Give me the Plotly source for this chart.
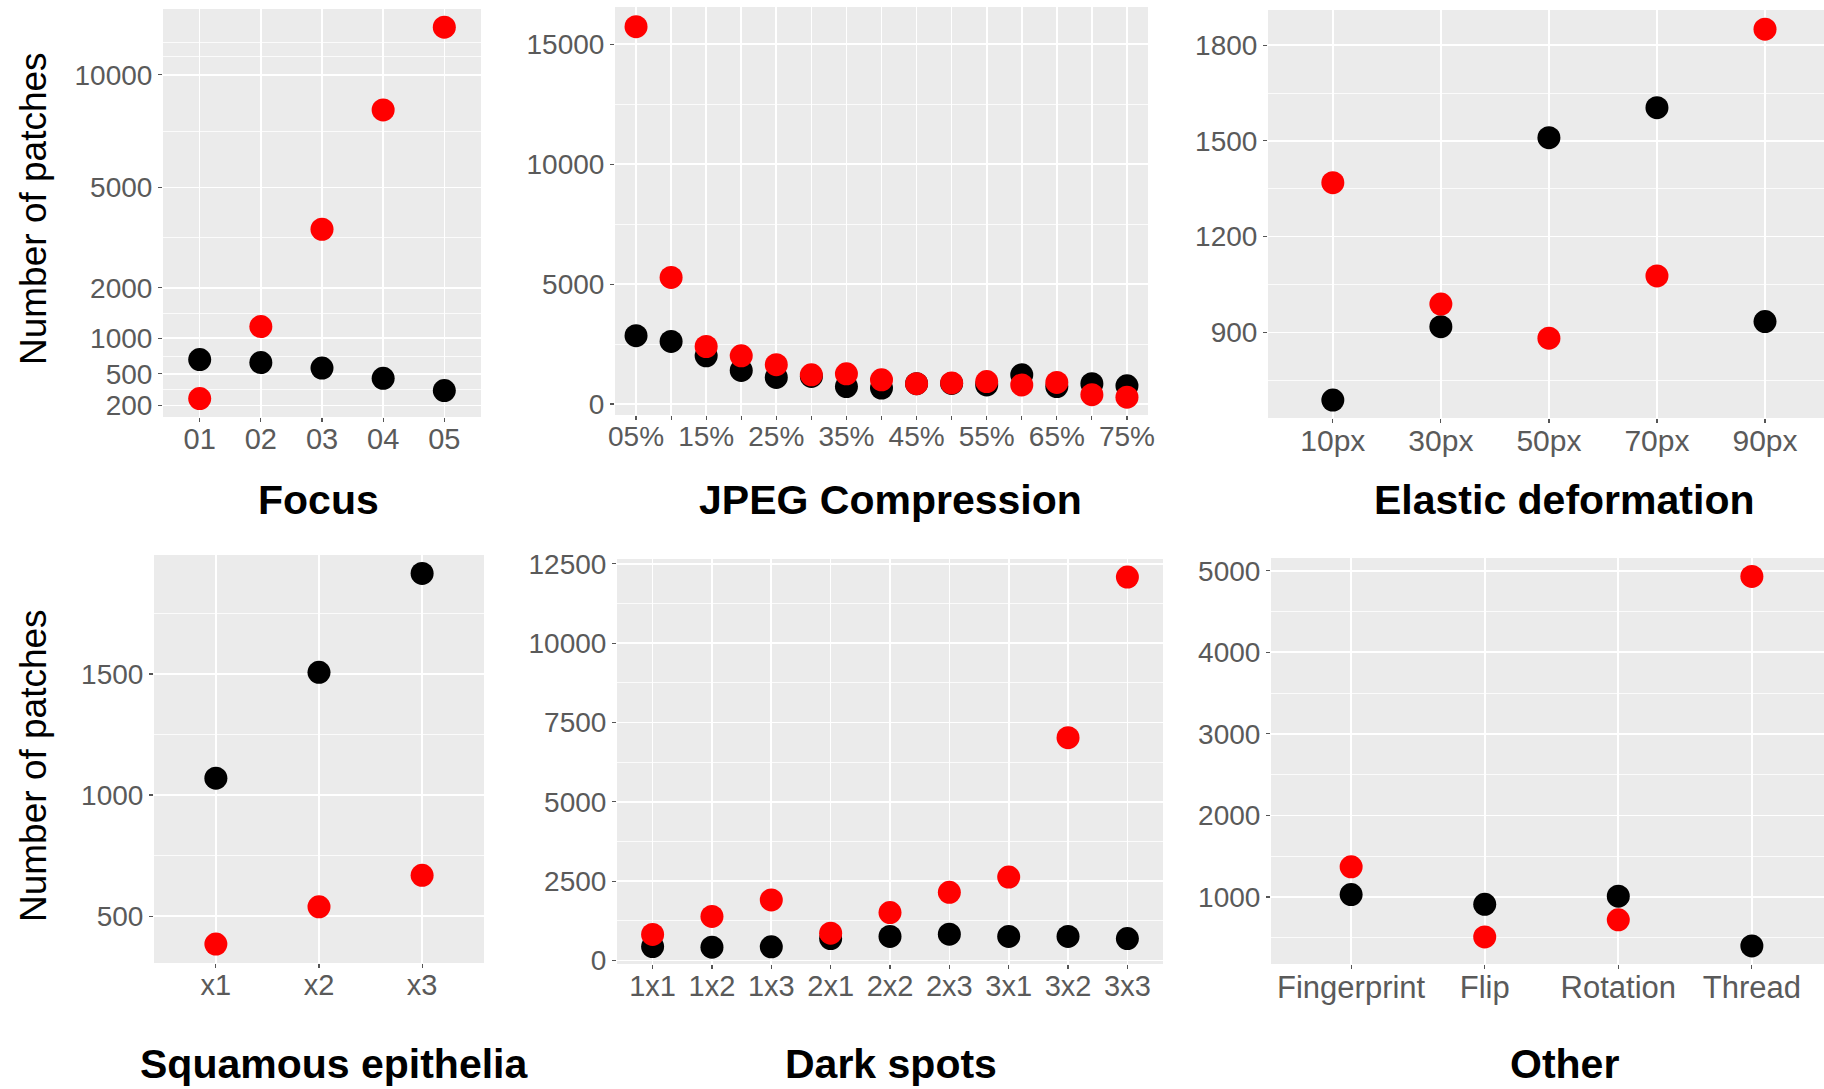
import numpy as np
import plotly.graph_objects as go

# ---------------- data ----------------
focus_cats = ["01", "02", "03", "04", "05"]
focus_black = [680, 640, 570, 450, 325]
focus_red = [255, 1200, 3590, 8260, 12630]
focus_yticks = [200, 500, 1000, 2000, 5000, 10000]

jpeg_cats = ["05%", "10%", "15%", "20%", "25%", "30%", "35%", "40%",
             "45%", "50%", "55%", "60%", "65%", "70%", "75%"]
jpeg_labels = ["05%", "", "15%", "", "25%", "", "35%", "", "45%", "",
               "55%", "", "65%", "", "75%"]
jpeg_black = [2850, 2610, 2010, 1400, 1110, 1150, 730, 670, 850, 860, 800, 1220, 730, 850, 760]
jpeg_red = [15730, 5280, 2400, 2010, 1640, 1220, 1260, 1010, 850, 880, 940, 800, 900, 390, 290]
jpeg_yticks = [0, 5000, 10000, 15000]

elastic_cats = ["10px", "30px", "50px", "70px", "90px"]
elastic_black = [688, 918, 1510, 1604, 934]
elastic_red = [1369, 989, 882, 1077, 1850]
elastic_yticks = [900, 1200, 1500, 1800]

squamous_cats = ["x1", "x2", "x3"]
squamous_black = [1070, 1507, 1915]
squamous_red = [385, 539, 669]
squamous_yticks = [500, 1000, 1500]

dark_cats = ["1x1", "1x2", "1x3", "2x1", "2x2", "2x3", "3x1", "3x2", "3x3"]
dark_black = [440, 420, 430, 690, 760, 830, 760, 760, 690]
dark_red = [820, 1390, 1910, 860, 1510, 2150, 2630, 7020, 12080]
dark_yticks = [0, 2500, 5000, 7500, 10000, 12500]

other_cats = ["Fingerprint", "Flip", "Rotation", "Thread"]
other_black = [1030, 910, 1010, 400]
other_red = [1370, 510, 720, 4930]
other_yticks = [1000, 2000, 3000, 4000, 5000]

titles = ["Focus", "JPEG Compression", "Elastic deformation",
          "Squamous epithelia", "Dark spots", "Other"]
y_title = "Number of patches"

# ---------------- style ----------------
W, H = 1824, 1089
FONT = "Liberation Sans, Arial, sans-serif"
TICK_COLOR = "#5a5a5a"
PANEL_BG = "#EBEBEB"
MS = 23

def fx(px):
    return px / W

def fy(px):
    return 1 - px / H

fig = go.Figure()

sq = np.sqrt
panels = [
    dict(cats=focus_cats, black=list(sq(focus_black)), red=list(sq(focus_red)),
         xd=(163, 481), yd=(9, 417), xr=[-0.6, 4.6], yr=[11.17, 117.1],
         tv=list(sq(focus_yticks)), tt=[str(v) for v in focus_yticks],
         minor=[18.25, 26.99, 38.17, 57.72, 85.36, 104.7, 108.3], xfs=29),
    dict(cats=jpeg_cats, black=jpeg_black, red=jpeg_red, xlabels=jpeg_labels,
         xd=(615, 1148), yd=(7, 415), xr=[-0.6, 14.6], yr=[-455, 16550],
         tv=jpeg_yticks, tt=[str(v) for v in jpeg_yticks],
         minor=[2500, 7500, 12500], xfs=28),
    dict(cats=elastic_cats, black=elastic_black, red=elastic_red,
         xd=(1268, 1824), yd=(10, 418), xr=[-0.6, 4.546], yr=[632, 1910],
         tv=elastic_yticks, tt=[str(v) for v in elastic_yticks],
         minor=[750, 1050, 1350, 1650], xfs=30),
    dict(cats=squamous_cats, black=squamous_black, red=squamous_red,
         xd=(154, 484), yd=(555, 963), xr=[-0.6, 2.6], yr=[307, 1991],
         tv=squamous_yticks, tt=[str(v) for v in squamous_yticks],
         minor=[750, 1250, 1750], xfs=29),
    dict(cats=dark_cats, black=dark_black, red=dark_red,
         xd=(617, 1163), yd=(559, 964), xr=[-0.6, 8.6], yr=[-110, 12650],
         tv=dark_yticks, tt=[str(v) for v in dark_yticks],
         minor=[1250, 3750, 6250, 8750, 11250], xfs=29),
    dict(cats=other_cats, black=other_black, red=other_red,
         xd=(1271, 1824), yd=(558, 964), xr=[-0.6, 3.54], yr=[178, 5156],
         tv=other_yticks, tt=[str(v) for v in other_yticks],
         minor=[500, 1500, 2500, 3500, 4500], xfs=31),
]

layout = {}
for i, p in enumerate(panels):
    n = "" if i == 0 else str(i + 1)
    xa, ya = "x" + n, "y" + n
    fig.add_trace(go.Scatter(x=p["cats"], y=p["black"], mode="markers",
                             marker=dict(color="black", size=MS, line=dict(width=0)),
                             xaxis=xa, yaxis=ya, showlegend=False, hoverinfo="skip"))
    fig.add_trace(go.Scatter(x=p["cats"], y=p["red"], mode="markers",
                             marker=dict(color="#FF0000", size=MS, line=dict(width=0)),
                             xaxis=xa, yaxis=ya, showlegend=False, hoverinfo="skip"))
    xlabels = p.get("xlabels", p["cats"])
    layout["xaxis" + n] = dict(
        domain=[fx(p["xd"][0]), fx(p["xd"][1])], anchor=ya, automargin=False,
        type="category", categoryorder="array", categoryarray=p["cats"],
        range=p["xr"], tickmode="array", tickvals=p["cats"], ticktext=xlabels,
        showgrid=True, gridcolor="white", gridwidth=1.6, zeroline=False,
        showline=False, ticks="outside", ticklen=4, tickwidth=1.2,
        tickcolor="#555555", tickfont=dict(family=FONT, size=p["xfs"], color=TICK_COLOR),
        fixedrange=True, tickangle=0, ticklabelstandoff=-8)
    layout["yaxis" + n] = dict(
        domain=[fy(p["yd"][1]), fy(p["yd"][0])], anchor=xa, automargin=False,
        range=p["yr"], tickmode="array", tickvals=p["tv"], ticktext=p["tt"],
        showgrid=True, gridcolor="white", gridwidth=1.6, zeroline=False,
        showline=False, ticks="outside", ticklen=4, tickwidth=1.2,
        tickcolor="#555555", tickfont=dict(family=FONT, size=28, color=TICK_COLOR),
        minor=dict(tickmode="array", tickvals=p["minor"], showgrid=True,
                   gridcolor="white", gridwidth=0.8, ticks=""),
        fixedrange=True)

shapes = []
for p in panels:
    shapes.append(dict(type="rect", xref="paper", yref="paper", layer="below",
                       x0=fx(p["xd"][0]), x1=fx(p["xd"][1]),
                       y0=fy(p["yd"][1]), y1=fy(p["yd"][0]),
                       fillcolor=PANEL_BG, line=dict(width=0)))

annotations = []
title_pos = [(318, 500), (890, 500), (1564, 500), (334, 1064), (891, 1064), (1564, 1064)]
for t, (cx, cy) in zip(titles, title_pos):
    annotations.append(dict(text="<b>%s</b>" % t, x=fx(cx), y=fy(cy), xref="paper", yref="paper",
                            showarrow=False, xanchor="center", yanchor="middle",
                            font=dict(family=FONT, size=41, color="black")))
for cy in (209, 766):
    annotations.append(dict(text=y_title, x=fx(33), y=fy(cy), xref="paper", yref="paper",
                            showarrow=False, xanchor="center", yanchor="middle", textangle=-90,
                            font=dict(family=FONT, size=37, color="black")))

fig.update_layout(width=W, height=H, margin=dict(l=0, r=0, t=0, b=0, autoexpand=False),
                  paper_bgcolor="white", plot_bgcolor="rgba(0,0,0,0)",
                  shapes=shapes, annotations=annotations, showlegend=False,
                  hovermode=False, **layout)

fig.write_html("out.html", config={"displayModeBar": False, "staticPlot": True},
               post_script="document.body.style.margin='0px';"
                           "document.body.style.overflow='hidden';")
